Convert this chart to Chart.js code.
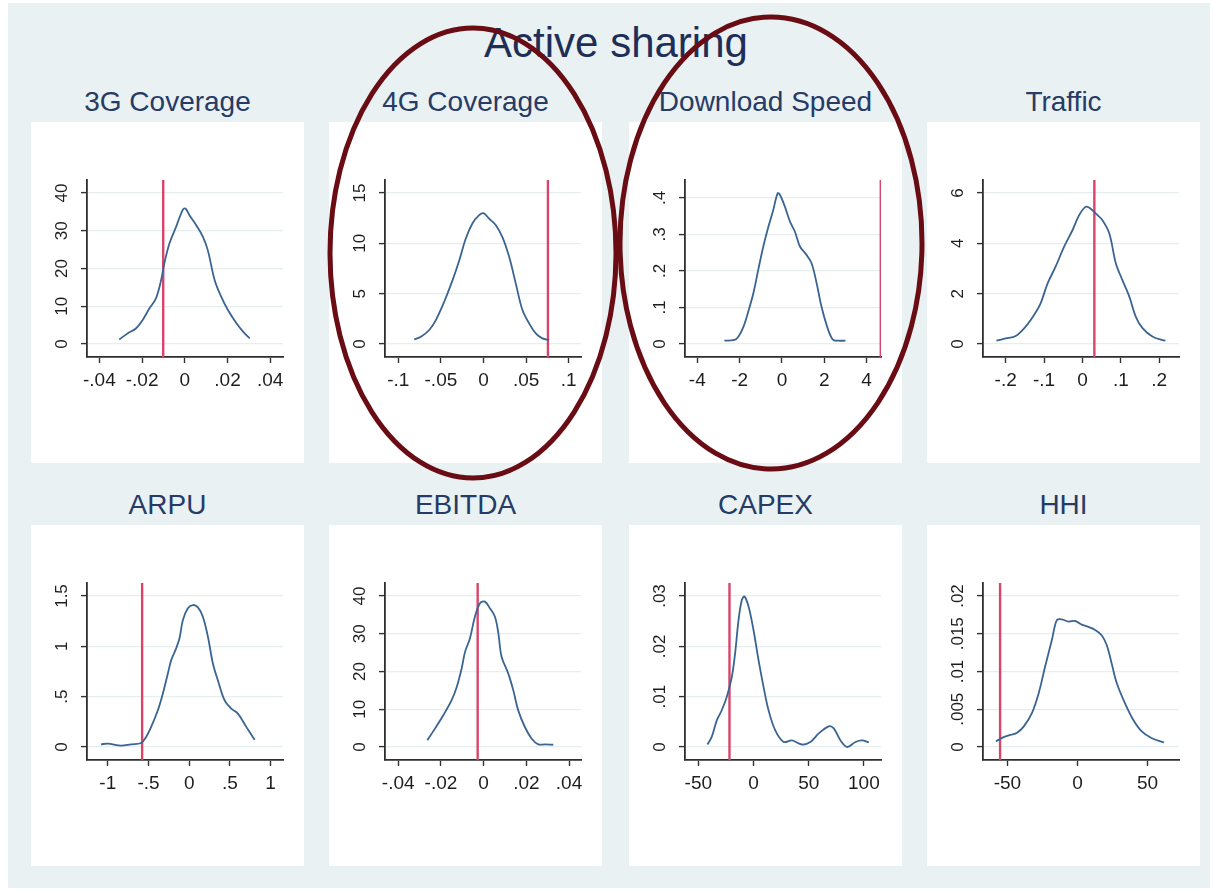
<!DOCTYPE html>
<html>
<head>
<meta charset="utf-8">
<script src="https://cdn.jsdelivr.net/npm/chart.js@4"></script>
<style>
  body { margin: 0; background: #fff; width: 1215px; height: 891px; overflow: hidden; font-family: "Liberation Sans", Arial, sans-serif; }
  #bg { position: absolute; left: 8px; top: 3px; width: 1202px; height: 885px; background: #e9f1f3; }
  .panel { position: absolute; background: #fff; }
  .ptitle { position: absolute; width: 273px; text-align: center; font-size: 28px; color: #263b66; line-height: 30px; }
  #title { position: absolute; left: 0; width: 1232px; top: 19px; text-align: center; font-size: 42px; color: #1f2e57; line-height: 48px; }
  svg { position: absolute; left: 0; top: 0; }
</style>
</head>
<body>
<div id="bg"></div>
<div id="title">Active sharing</div>
<div id="panels"></div>
<svg width="1215" height="891">
  <ellipse cx="473" cy="253" rx="143" ry="225" fill="none" stroke="#6a0c14" stroke-width="5"/>
  <ellipse cx="771" cy="243" rx="151" ry="226" fill="none" stroke="#6a0c14" stroke-width="5"/>
</svg>
<script>
// panel titles
const panelTitles = ['3G Coverage', '4G Coverage', 'Download Speed', 'Traffic', 'ARPU', 'EBITDA', 'CAPEX', 'HHI'];

// density curves
const cov3gX = [-0.0307, -0.0268, -0.0229, -0.0198, -0.0166, -0.0135, -0.0111, -0.0096, -0.0072, -0.0041, -0.0009, 0.0003, 0.0022, 0.0053, 0.0085, 0.0108, 0.014, 0.0171, 0.0202, 0.0242, 0.0273, 0.0304];
const cov3gY = [1.2, 2.8, 4.1, 6.3, 9.4, 12.1, 16.9, 21.3, 26.6, 31, 35.6, 35.9, 34.1, 31.5, 28.4, 24.8, 16.9, 12.5, 9, 5.5, 3.3, 1.5];

const cov4gX = [-0.0813, -0.0734, -0.0637, -0.0559, -0.0461, -0.0363, -0.0285, -0.0207, -0.0129, -0.0051, 0, 0.0066, 0.0145, 0.0223, 0.0301, 0.0379, 0.0457, 0.0535, 0.0613, 0.0691, 0.077];
const cov4gY = [0.46, 0.73, 1.39, 2.38, 4.2, 6.34, 8.3, 10.5, 12, 12.8, 13.0, 12.45, 11.8, 10.6, 8.66, 6.0, 3.37, 2.05, 1.06, 0.56, 0.4];

const speedX = [-2.72, -2.25, -2.06, -1.82, -1.59, -1.35, -1.12, -0.88, -0.64, -0.41, -0.2, -0.09, 0.14, 0.38, 0.61, 0.85, 1.16, 1.4, 1.64, 1.87, 2.19, 2.42, 2.66, 3.0];
const speedY = [0.009, 0.011, 0.02, 0.047, 0.089, 0.139, 0.203, 0.267, 0.321, 0.367, 0.413, 0.408, 0.376, 0.335, 0.308, 0.267, 0.244, 0.221, 0.166, 0.102, 0.038, 0.011, 0.009, 0.009];

const trafficX = [-0.224, -0.2, -0.174, -0.148, -0.126, -0.109, -0.091, -0.07, -0.048, -0.026, -0.009, 0.007, 0.017, 0.035, 0.052, 0.07, 0.087, 0.104, 0.122, 0.139, 0.157, 0.183, 0.216];
const trafficY = [0.13, 0.22, 0.32, 0.69, 1.15, 1.61, 2.4, 3.07, 3.86, 4.52, 5.11, 5.44, 5.42, 5.18, 4.92, 4.39, 3.2, 2.54, 1.88, 1.08, 0.62, 0.29, 0.13];

const arpuX = [-1.082, -1.0, -0.836, -0.713, -0.59, -0.529, -0.467, -0.385, -0.324, -0.262, -0.221, -0.16, -0.119, -0.078, -0.016, 0.045, 0.107, 0.168, 0.23, 0.291, 0.352, 0.434, 0.516, 0.598, 0.701, 0.803];
const arpuY = [0.027, 0.033, 0.013, 0.027, 0.04, 0.1, 0.2, 0.365, 0.53, 0.73, 0.863, 0.98, 1.08, 1.26, 1.377, 1.41, 1.387, 1.294, 1.095, 0.83, 0.664, 0.465, 0.382, 0.332, 0.2, 0.073];

const ebitdaX = [-0.0264, -0.0228, -0.0189, -0.015, -0.0126, -0.0103, -0.0087, -0.0064, -0.0041, -0.0017, 0.0006, 0.003, 0.0053, 0.0069, 0.0084, 0.0115, 0.0139, 0.0162, 0.0193, 0.0225, 0.0256, 0.0287, 0.0326];
const ebitdaY = [1.77, 4.87, 8.4, 12.4, 15.9, 20.8, 25.2, 28.8, 34.5, 38.1, 38.5, 36.7, 34.5, 30.1, 23.9, 19.5, 15, 9.7, 5.3, 2.2, 0.7, 0.7, 0.6];

const capexX = [-41.8, -37.9, -33.3, -28.8, -24.2, -19.7, -16.7, -13.6, -10.6, -8.2, -4.5, 0, 4.5, 9.1, 13.6, 19.7, 27.3, 34.8, 43.9, 51.5, 59.1, 68.2, 72.7, 78.8, 84.8, 92.4, 98.5, 104.5];
const capexY = [0.0005, 0.002, 0.0053, 0.0073, 0.01, 0.0139, 0.0186, 0.0252, 0.0292, 0.0299, 0.0279, 0.0232, 0.0173, 0.0119, 0.0073, 0.0033, 0.001, 0.0013, 0.0005, 0.001, 0.0027, 0.0041, 0.0037, 0.0013, 0.0, 0.001, 0.0013, 0.0009];

const hhiX = [-58.1, -52.6, -47.9, -43.1, -38.4, -32.5, -27.7, -23, -18.2, -14.7, -11.1, -6.4, -1.7, 3.1, 7.8, 12.6, 17.3, 20.9, 24.4, 28, 33.9, 39.8, 45.7, 52.8, 61.8];
const hhiY = [0.00075, 0.0013, 0.0016, 0.0019, 0.0027, 0.0045, 0.0071, 0.0107, 0.0142, 0.0168, 0.0169, 0.0166, 0.0167, 0.0162, 0.0159, 0.0155, 0.0148, 0.0135, 0.0111, 0.0085, 0.0058, 0.0036, 0.0021, 0.0012, 0.0006];

// vertical reference lines
const refLines = [-0.0101, 0.0756, 4.67, 0.031, -0.578, -0.0028, -21.8, -55.2];

// tick values
const xTicks = [
  [-0.04, -0.02, 0, 0.02, 0.04],
  [-0.1, -0.05, 0, 0.05, 0.1],
  [-4, -2, 0, 2, 4],
  [-0.2, -0.1, 0, 0.1, 0.2],
  [-1, -0.5, 0, 0.5, 1],
  [-0.04, -0.02, 0, 0.02, 0.04],
  [-50, 0, 50, 100],
  [-50, 0, 50]
];
const yTicks = [
  [0, 10, 20, 30, 40],
  [0, 5, 10, 15],
  [0, 0.1, 0.2, 0.3, 0.4],
  [0, 2, 4, 6],
  [0, 0.5, 1, 1.5],
  [0, 10, 20, 30, 40],
  [0, 0.01, 0.02, 0.03],
  [0, 0.005, 0.01, 0.015, 0.02]
];

// axis ranges
const xRanges = [[-0.0458, 0.046], [-0.1156, 0.1144], [-4.58, 4.68], [-0.259, 0.2514], [-1.255, 1.152], [-0.0462, 0.0456], [-62.1, 115.5], [-67.4, 72.5]];
const yRanges = [[-3.44, 43.44], [-1.29, 16.29], [-0.0356, 0.449], [-0.517, 6.517], [-0.129, 1.629], [-3.44, 43.44], [-0.00258, 0.03258], [-0.00172, 0.02172]];

const curvesX = [cov3gX, cov4gX, speedX, trafficX, arpuX, ebitdaX, capexX, hhiX];
const curvesY = [cov3gY, cov4gY, speedY, trafficY, arpuY, ebitdaY, capexY, hhiY];

const panelLeft = [31, 329, 629, 927];
const panelTop = [122, 525];
const titleTop = [87, 490];
const PW = 273, PH = 341;

function fmt(v) {
  const s = String(+Number(v).toFixed(6));
  return s.replace(/^(-?)0\./, '$1.');
}

const yFont = { family: '"Liberation Sans", Arial, sans-serif', size: 17 };
const xFont = { family: '"Liberation Sans", Arial, sans-serif', size: 19 };
const mctx = document.createElement('canvas').getContext('2d');
mctx.font = '17px "Liberation Sans", Arial, sans-serif';

const holder = document.getElementById('panels');

for (let i = 0; i < 8; i++) {
  const col = i % 4, row = Math.floor(i / 4);
  const div = document.createElement('div');
  div.className = 'panel';
  div.style.left = panelLeft[col] + 'px';
  div.style.top = panelTop[row] + 'px';
  div.style.width = PW + 'px';
  div.style.height = PH + 'px';
  const cv = document.createElement('canvas');
  cv.width = PW; cv.height = PH;
  div.appendChild(cv);
  holder.appendChild(div);

  const t = document.createElement('div');
  t.className = 'ptitle';
  t.style.left = panelLeft[col] + 'px';
  t.style.top = titleTop[row] + 'px';
  t.textContent = panelTitles[i];
  holder.appendChild(t);

  const widest = Math.max(...yTicks[i].map(v => mctx.measureText(fmt(v)).width));
  const yr = yRanges[i];

  new Chart(cv, {
    type: 'line',
    data: {
      datasets: [
        {
          data: curvesX[i].map((x, k) => ({ x: x, y: curvesY[i][k] })),
          borderColor: '#3a6491',
          borderWidth: 1.8,
          pointRadius: 0,
          tension: 0.35,
          fill: false
        },
        {
          data: [{ x: refLines[i], y: yr[0] }, { x: refLines[i], y: yr[1] }],
          borderColor: '#d8456b',
          borderWidth: 2.4,
          pointRadius: 0,
          fill: false
        }
      ]
    },
    options: {
      responsive: false,
      animation: false,
      devicePixelRatio: 1,
      layout: { padding: { top: 58, left: 0, right: 21, bottom: 66 } },
      plugins: { legend: { display: false }, tooltip: { enabled: false } },
      scales: {
        x: {
          type: 'linear',
          min: xRanges[i][0],
          max: xRanges[i][1],
          afterBuildTicks: s => { s.ticks = xTicks[i].map(v => ({ value: v })); },
          afterFit: s => { s.height = 40; },
          ticks: { callback: v => fmt(v), font: xFont, color: '#1e1e1e', padding: 6, maxRotation: 0, autoSkip: false },
          grid: { drawOnChartArea: false, tickLength: 6, tickColor: '#333', tickWidth: 1.4 },
          border: { display: true, color: '#2e2e2e', width: 1.8 }
        },
        y: {
          type: 'linear',
          min: yr[0],
          max: yr[1],
          afterBuildTicks: s => { s.ticks = yTicks[i].map(v => ({ value: v })); },
          afterFit: s => { s.width = 56; },
          ticks: {
            callback: v => fmt(v), font: yFont, color: '#1e1e1e', autoSkip: false,
            minRotation: 90, maxRotation: 90, crossAlign: 'center', align: 'end',
            padding: 10 - widest / 2
          },
          grid: { color: '#e6eef0', lineWidth: 1.2, tickLength: 6, tickColor: '#333', tickWidth: 1.4 },
          border: { display: true, color: '#2e2e2e', width: 1.8 }
        }
      }
    }
  });
}
</script>
</body>
</html>
